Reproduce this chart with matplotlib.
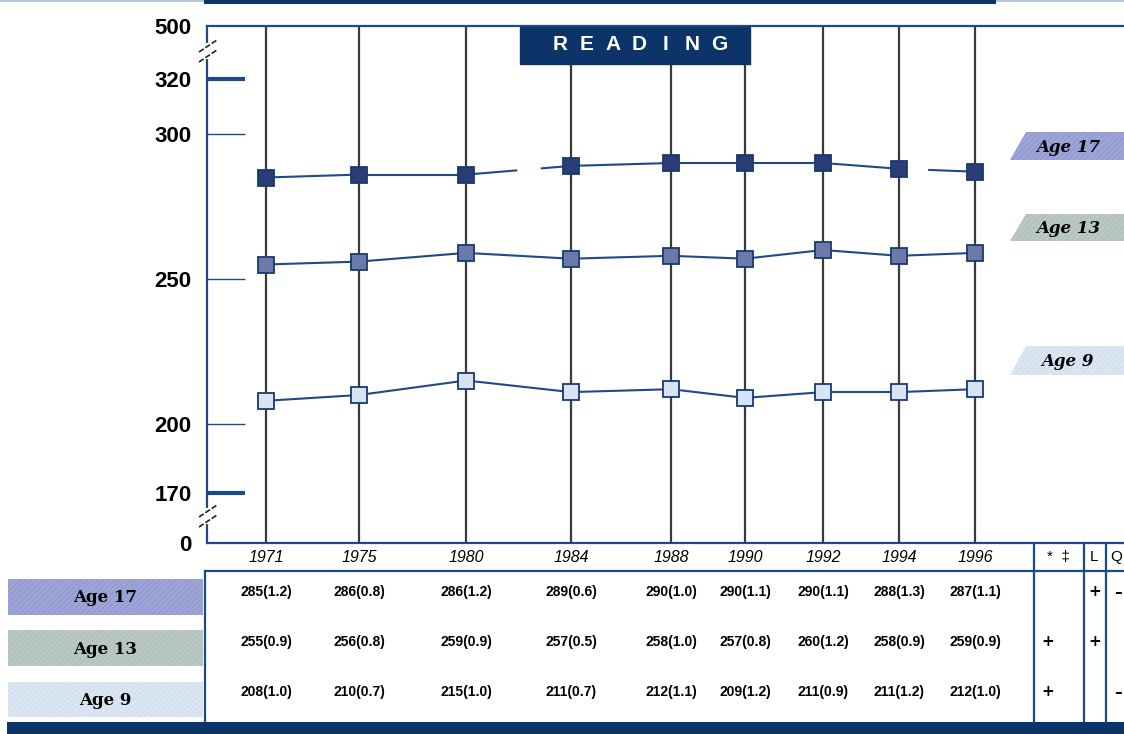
"""NAEP reading trend chart: average scale scores by age, 1971-1996."""

import matplotlib

matplotlib.use("Agg")
import matplotlib.pyplot as plt
import matplotlib.transforms as mtransforms
import numpy as np
from matplotlib.lines import Line2D
from matplotlib.patches import Polygon, Rectangle

# ---- data -------------------------------------------------------------
YEARS = [1971, 1975, 1980, 1984, 1988, 1990, 1992, 1994, 1996]
AGE17 = [285, 286, 286, 289, 290, 290, 290, 288, 287]
AGE13 = [255, 256, 259, 257, 258, 257, 260, 258, 259]
AGE9 = [208, 210, 215, 211, 212, 209, 211, 211, 212]
SE17 = [1.2, 0.8, 1.2, 0.6, 1.0, 1.1, 1.1, 1.3, 1.1]
SE13 = [0.9, 0.8, 0.9, 0.5, 1.0, 0.8, 1.2, 0.9, 0.9]
SE9 = [1.0, 0.7, 1.0, 0.7, 1.1, 1.2, 0.9, 1.2, 1.0]
GROUPS = ["Age 17", "Age 13", "Age 9"]
SIG_HEAD = ["*  \u2021", "L", "Q"]
SIG_STAR = ["", "+", "+"]
SIG_L = ["+", "+", ""]
SIG_Q = ["\u2013", "", "\u2013"]
Y_TICKS = [0, 170, 200, 250, 300, 320, 500]

# ---- layout (pixels of the 1124x734 canvas) ----------------------------
W, H = 1124, 734
COL_PX = [266, 359, 466, 571, 671, 745, 823, 899, 975]  # year columns
Y_BREAKS = [0, 170, 200, 300, 320, 500]                 # broken value axis
Y_BREAK_PX = [543, 493, 424, 134, 79, 26]

NAVY = "#0c3468"
LINE = "#1f4a86"
GRID = "#3a3a3a"
FILLS = ["#2b3d76", "#6b7aa8", "#d8e3f3"]
BOX = ["#9ca4d8", "#b9c8c5", "#dbe6f3"]
HATCH = ["#8a93c9", "#a9bab6", "#c9d8ea"]

plt.rcParams["lines.scale_dashes"] = False
plt.rcParams["hatch.linewidth"] = 0.5
NUM_FONT = ["Liberation Sans Narrow", "Liberation Sans", "DejaVu Sans"]

fig = plt.figure(figsize=(W / 100, H / 100), dpi=100)
PX = mtransforms.Affine2D().scale(1 / W, -1 / H).translate(0, 1) + fig.transFigure

ax = fig.add_axes([207 / W, (H - 543) / H, (W - 207) / W, (543 - 26) / H])

# piecewise scales
y_h = [543 - p for p in Y_BREAK_PX]
ax.set_yscale("function", functions=(lambda v: np.interp(v, Y_BREAKS, y_h),
                                     lambda h: np.interp(h, y_h, Y_BREAKS)))
ax.set_ylim(0, 500)

l_slope = (COL_PX[1] - COL_PX[0]) / (YEARS[1] - YEARS[0])
r_slope = (COL_PX[-1] - COL_PX[-2]) / (YEARS[-1] - YEARS[-2])
yr_ext = [YEARS[0] - 100] + YEARS + [YEARS[-1] + 100]
px_ext = [COL_PX[0] - 100 * l_slope] + COL_PX + [COL_PX[-1] + 100 * r_slope]
px_ext = [p - 207 for p in px_ext]
x_fwd = lambda x: np.interp(x, yr_ext, px_ext)
x_inv = lambda p: np.interp(p, px_ext, yr_ext)
ax.set_xscale("function", functions=(x_fwd, x_inv))
ax.set_xlim(x_inv(0), x_inv(W - 207))

# vertical year lines
for yr in YEARS:
    ax.axvline(yr, color=GRID, lw=1.6, zorder=1)

# series
gaps17 = {2: (0, (37, 17, 80)), 7: (0, (6, 15, 80))}
for i, (vals, fill) in enumerate(zip([AGE17, AGE13, AGE9], FILLS)):
    for k in range(len(YEARS) - 1):
        ls = gaps17.get(k, "-") if i == 0 else "-"
        ax.plot(YEARS[k:k + 2], vals[k:k + 2], color=LINE, lw=1.5, ls=ls, zorder=2)
    ax.plot(YEARS, vals, ls="none", marker="s", ms=11.5, mfc=fill,
            mec="#163a70", mew=1.3, zorder=3)

# axes styling
for s in ("left", "top", "bottom"):
    ax.spines[s].set_color("#1d4a84")
    ax.spines[s].set_linewidth(1.6)
ax.spines["right"].set_visible(False)

ax.set_yticks(Y_TICKS, labels=[str(t) for t in Y_TICKS])
ax.tick_params(axis="y", direction="in", length=27, width=1, color="#1d4a84",
               pad=11, labelsize=16)
for lab in ax.get_yticklabels():
    lab.set_fontfamily(["Liberation Sans", "DejaVu Sans"])
    lab.set_fontweight("bold")
for t, val in zip(ax.yaxis.get_major_ticks(), Y_TICKS):
    if val in (0, 500):
        t.tick1line.set_visible(False)
    elif val in (170, 320):
        t.tick1line.set_markeredgewidth(3)
        t.tick1line.set_color(NAVY)

ax.set_xticks(YEARS, labels=[str(y) for y in YEARS])
ax.tick_params(axis="x", length=0, pad=5, labelsize=11.5)
for lab in ax.get_xticklabels():
    lab.set_fontstyle("italic")
    lab.set_fontfamily(["Liberation Sans", "DejaVu Sans"])

# axis breaks
for y0 in (52, 517):
    fig.add_artist(Line2D([207, 207], [y0 - 7, y0 + 5], transform=PX,
                          color="white", lw=3, zorder=5))
    for dy in (0, 10):
        fig.add_artist(Line2D([199, 217], [y0 + dy, y0 + dy - 12], transform=PX,
                              color="#222222", lw=1.2, ls=(0, (4, 1.5)), zorder=6))

# READING banner
fig.add_artist(Rectangle((520, 27), 230, 37, transform=PX, color=NAVY, zorder=4))
for j, ch in enumerate("READING"):
    fig.text(560 + j * 26.5, 45, ch, transform=PX, color="white", fontsize=15,
             fontweight="bold", ha="center", va="center", zorder=5,
             family=["Liberation Sans", "DejaVu Sans"])

# series tags on the right
for (top, bot), name, c, hc in zip([(132, 160), (214, 241), (346, 375)],
                                   GROUPS, BOX, HATCH):
    fig.add_artist(Polygon([(1010, bot), (1026, top), (1150, top), (1134, bot)],
                           closed=True, transform=PX, facecolor=c, edgecolor=hc,
                           hatch="//////", lw=0, zorder=4))
    fig.text(1068, (top + bot) / 2 + 1, name, transform=PX, fontsize=12,
             fontweight="bold", style="italic", family="DejaVu Serif",
             ha="center", va="center", zorder=5)

# ---- table ------------------------------------------------------------
fig.add_artist(Rectangle((0, 0), W, 2, transform=PX, color="#b7c6dc", lw=0))
fig.add_artist(Rectangle((204, 0), 792, 4, transform=PX, color=NAVY, lw=0))
fig.add_artist(Rectangle((7, 722), W, 12, transform=PX, color=NAVY, lw=0))

tcol = dict(color="#1d4a84", lw=1.6, transform=PX)
fig.add_artist(Line2D([205, W], [571, 571], **tcol))
fig.add_artist(Line2D([205, 205], [571, 722], **tcol))
for xv in (1034, 1084, 1106):
    fig.add_artist(Line2D([xv, xv], [543, 722], **tcol))

row_y = [592, 642, 692]
box_y = [(579, 615), (630, 666), (682, 717)]
blend = mtransforms.blended_transform_factory(ax.transData, PX)
for r, (vals, ses) in enumerate(zip([AGE17, AGE13, AGE9], [SE17, SE13, SE9])):
    top, bot = box_y[r]
    fig.add_artist(Rectangle((8, top), 195, bot - top, transform=PX,
                             facecolor=BOX[r], edgecolor=HATCH[r],
                             hatch="//////", lw=0))
    fig.text(105, (top + bot) / 2 + 1, GROUPS[r], transform=PX, fontsize=12,
             fontweight="bold", family="DejaVu Serif", ha="center", va="center")
    for yr, v, se in zip(YEARS, vals, ses):
        ax.text(yr, row_y[r], f"{v}({se:.1f})", transform=blend, fontsize=10,
                fontweight="bold", family=NUM_FONT, ha="center", va="center",
                clip_on=False)
    for xc, mark in zip((1048, 1095, 1118), (SIG_STAR[r], SIG_L[r], SIG_Q[r])):
        fig.text(xc, row_y[r], mark, transform=PX, fontsize=11, fontweight="bold",
                 ha="center", va="center")

for xc, head in zip((1058, 1094, 1116), SIG_HEAD):
    fig.text(xc, 557, head, transform=PX, fontsize=11, ha="center", va="center",
             family=["Liberation Sans", "DejaVu Sans"])

fig.savefig("out.png", dpi=100)
